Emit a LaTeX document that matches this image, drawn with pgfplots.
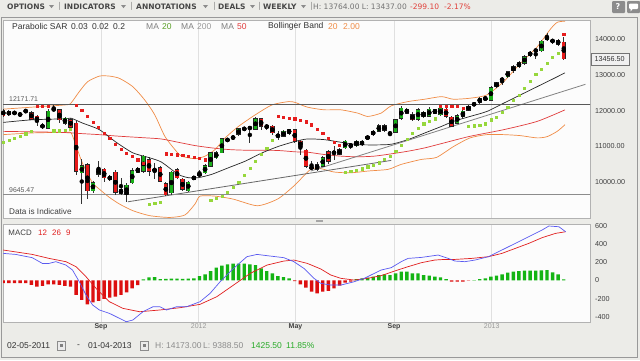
\documentclass[border=0pt]{standalone}
\usepackage{pgfplots}
\pgfplotsset{compat=1.18}
\usepackage{pgfplotstable}
\usepackage{fontspec}
\setmainfont{Liberation Sans}
\newfontfamily\dv{DejaVu Sans}
\definecolor{bgc}{RGB}{236,236,232}
\definecolor{panelc}{RGB}{252,252,252}
\definecolor{cgreen}{RGB}{25,175,25}
\definecolor{cred}{RGB}{230,25,25}
\definecolor{sarred}{RGB}{230,30,30}
\definecolor{sargreen}{RGB}{150,215,60}
\definecolor{ma50}{RGB}{225,60,60}
\definecolor{boll}{RGB}{240,140,70}
\definecolor{trend}{RGB}{130,130,130}
\definecolor{mblue}{RGB}{90,90,240}
\definecolor{mred}{RGB}{225,30,30}
\definecolor{hgreen}{RGB}{20,180,20}
\definecolor{hred}{RGB}{220,15,15}
\definecolor{txtred}{RGB}{224,64,58}
\definecolor{txtgreen}{RGB}{40,170,40}
\definecolor{magreen}{RGB}{90,160,40}

\pgfplotstableread{
w o h l c
0 12005 12060 11820 11860
1 11885 12020 11850 11975
2 11930 12000 11880 11940
3 11900 11950 11830 11890
4 11980 12060 11930 11990
5 11950 11990 11740 11760
6 11840 11870 11560 11700
7 11560 11650 11480 11570
8 11510 12050 11490 11980
9 12030 12150 11980 12040
10 12020 12030 11650 11740
11 11650 11830 11600 11790
12 11750 11800 11500 11540
13 11650 11700 10200 10310
14 10260 10640 9390 10450
15 10490 10540 9520 9750
16 9750 10040 9700 9980
17 10220 10590 10150 10360
18 10360 10400 10000 10120
19 10080 10200 10020 10150
20 10280 10330 9650 9710
21 9780 10120 9650 9690
22 9660 9960 9430 9910
23 9980 10380 9950 10310
24 10280 10430 10250 10370
25 10300 10760 10250 10720
26 10630 10700 10180 10300
27 10350 10540 10080 10330
28 10400 10440 9990 10030
29 9960 9990 9600 9640
30 9700 10320 9630 10280
31 10340 10400 10080 10120
32 10080 10100 9750 9800
33 9760 10040 9720 10000
34 10080 10180 10050 10150
35 10200 10350 10140 10220
36 10260 10500 10230 10450
37 10450 10840 10420 10820
38 10680 10860 10650 10820
39 10820 11240 10800 11210
40 11160 11230 11130 11200
41 11210 11320 11180 11280
42 11330 11520 11300 11490
43 11470 11540 11440 11510
44 11510 11540 11100 11520
45 11480 11820 11450 11780
46 11780 11800 11470 11560
47 11580 11620 11470 11530
48 11560 11600 11330 11380
49 11290 11420 11180 11300
50 11280 11460 11250 11420
51 11370 11500 11330 11470
52 11470 11500 11100 11150
53 11140 11180 10750 11000
54 10890 10920 10400 10450
55 10400 10580 10350 10410
56 10480 10550 10300 10360
57 10450 10720 10420 10680
58 10850 10900 10500 10590
59 10830 11000 10630 10820
60 10770 10950 10750 10910
61 10960 11180 10930 11140
62 11020 11100 10920 11030
63 11020 11180 10990 11140
64 11050 11180 11000 11140
65 11210 11310 11180 11280
66 11330 11450 11300 11420
67 11420 11620 11400 11580
68 11580 11620 11400 11450
69 11370 11390 11300 11360
70 11400 11780 11380 11740
71 11790 12120 11750 12070
72 12040 12080 11900 11930
73 11880 11950 11700 11745
74 11750 12080 11720 12020
75 11950 11990 11800 11840
76 11840 12090 11810 12040
77 12020 12060 11900 11930
78 11880 12100 11850 12070
79 12040 12080 11800 11840
80 11820 11850 11530 11560
81 11650 11900 11620 11860
82 11840 12010 11760 11980
83 12020 12160 11990 12130
84 12150 12240 12120 12210
85 12230 12380 12200 12350
86 12330 12400 12300 12340
87 12300 12680 12280 12650
88 12670 12810 12640 12780
89 12840 12930 12720 12900
90 12950 13120 12920 13090
91 13120 13290 13050 13230
92 13230 13380 13200 13340
93 13320 13560 13280 13520
94 13550 13680 13500 13640
95 13680 13700 13460 13690
96 13680 13980 13640 13950
97 13990 14173 13960 14080
98 13960 14020 13880 13950
99 13970 14020 13820 13860
100 13920 14060 13430 13456
}\candles

\pgfplotstableread{
w v r
0 11107 0
1 11162 0
2 11218 0
3 11287 0
4 11357 0
5 11426 0
6 12116 1
7 12116 1
8 12135 1
9 11440 0
10 11440 0
11 11454 0
12 11482 0
13 12163 1
14 12010 1
15 11849 1
16 11682 1
17 11538 1
18 11376 1
19 11218 1
20 11065 1
21 10926 1
22 10801 1
23 10717 1
24 10626 1
25 10537 1
26 9383 0
27 9411 0
28 9439 0
29 10793 1
30 10781 1
31 10765 1
32 10745 1
33 10717 1
34 10690 1
35 10662 1
36 10626 1
37 9494 0
38 9536 0
39 9605 0
40 9717 0
41 9856 0
42 9995 0
43 10189 0
44 10398 0
45 10592 0
46 10773 0
47 10959 0
48 11162 0
49 11838 1
50 11816 1
51 11793 1
52 11774 1
53 11738 1
54 11690 1
55 11607 1
56 11488 1
57 11376 1
58 11237 1
59 11115 1
60 11023 1
61 10281 0
62 10309 0
63 10337 0
64 10376 0
65 10431 0
66 10467 0
67 10542 0
68 10634 0
69 10726 0
70 10865 0
71 11023 0
72 11210 0
73 11376 0
74 11515 0
75 11635 0
76 11699 0
77 11774 0
78 12135 1
79 12135 1
80 12135 1
81 12121 1
82 12071 1
83 11560 0
84 11579 0
85 11599 0
86 11635 0
87 11746 0
88 11821 0
89 11949 0
90 12099 0
91 12283 0
92 12441 0
93 12627 0
94 12830 0
95 13025 0
96 13155 0
97 13322 0
98 13489 0
99 13617 0
100 14137 1
}\sar

\pgfplotstableread{
w v
0 -30
1 -30
2 -30
3 -30
4 -30
5 -50
6 -70
7 -60
8 -45
9 -45
10 -50
11 -62
12 -70
13 -161
14 -216
15 -264
16 -242
17 -227
18 -205
19 -190
20 -180
21 -161
22 -132
23 -88
24 -52
25 11
26 33
27 36
28 14
29 15
30 20
31 18
32 15
33 20
34 22
35 47
36 66
37 102
38 139
39 161
40 176
41 183
42 183
43 183
44 176
45 168
46 131
47 102
48 77
49 47
50 36
51 22
52 -8
53 -45
54 -81
55 -125
56 -143
57 -125
58 -117
59 -88
60 -59
61 -26
62 -15
63 14
64 22
65 29
66 40
67 58
68 66
69 58
70 77
71 95
72 95
73 77
74 77
75 58
76 51
77 40
78 33
79 14
80 -15
81 -15
82 -15
83 -4
84 3
85 14
86 22
87 40
88 51
89 66
90 84
91 95
92 102
93 106
94 106
95 106
96 110
97 113
98 88
99 66
100 11
}\hist

\begin{document}
\begin{tikzpicture}[font=\fontsize{8.5}{10}\selectfont]
\useasboundingbox (0,0) rectangle (640pt,-360pt);
\fill[bgc] (0,0) rectangle (640pt,-360pt);
\draw[black!40] (1.5pt,-17.5pt) rectangle (637.5pt,-357pt);

% ---------------- main price panel ----------------
\begin{axis}[at={(3pt,-20pt)}, anchor=north west, scale only axis,
  width=587pt, height=198pt,
  xmin=-0.05, xmax=104.68, ymin=8992, ymax=14541,
  axis background/.style={fill=panelc},
  axis line style={draw=black!30},
  xtick={17.43,34.86,52.14,69.71,87.14}, xticklabels={},
  xmajorgrids, major grid style={black!12, line width=0.6pt},
  scaled y ticks=false,
  ytick={10000,11000,12000,13000,14000},
  yticklabels={10000.00,11000.00,12000.00,13000.00,14000.00},
  yticklabel pos=right,
  yticklabel style={font=\fontsize{7.2}{8}\selectfont, text=black!75, anchor=west, inner sep=0pt, xshift=5pt},
  major tick length=0pt, tick style={draw=none},
  clip=true]
% Bollinger bands
\addplot[boll, line width=0.7pt, smooth, tension=0.4] coordinates {
(0,12043) (5.17,12099) (11.17,12163) (12.06,12210) (13.56,12533) (15.04,12811) (17.15,12969) (18.94,12969) (20.74,12905) (23.12,12672) (25.22,12302) (27.02,11885) (28.82,11282) (30.61,10912) (31.81,10726) (34.2,10654) (36,10726) (37.79,10912) (39.59,11237) (41.97,11560) (44.97,11885) (47.97,12163) (50.95,12255) (52.15,12227) (54.25,12099) (57.24,12024) (60.23,12024) (63.23,11932) (65.03,11838) (67.41,11932) (69.21,12135) (72.21,12255) (75.19,12321) (78.19,12394) (80.29,12321) (83.27,12349) (86.27,12441) (89.26,12811) (92.24,13322) (95.24,13784) (97.67,14295) (98.87,14479) (100.25,14507)};
\addplot[boll, line width=0.7pt, smooth, tension=0.4] coordinates {
(0,11329) (5.17,11376) (11.17,11393) (12.12,11376) (13.02,11004) (14.09,10542) (15.89,9986) (17.15,9800) (18.94,9569) (20.74,9383) (23.12,9197) (26.12,9058) (29.71,9008) (32.41,9077) (34.2,9383) (35.1,9605) (37.79,9605) (41.02,9522) (45.33,9336) (48.92,9522) (51.8,9883) (54.85,10356) (56.64,10376) (59.0,10281) (62.03,10259) (65.08,10309) (68.67,10356) (71.0,10495) (74.6,10634) (77.29,10690) (80.34,10996) (83.27,11237) (86.27,11329) (89.26,11329) (92.24,11301) (95.24,11237) (97.04,11273) (98.83,11421) (100.22,11607)};
% MA 50
\addplot[ma50, line width=0.7pt, smooth, tension=0.4] coordinates {
(0,11420) (10,11393) (14.15,11356) (17.15,11328) (20.14,11290) (25.22,11240) (28.22,11207) (31.2,11115) (34.2,11022) (37.2,10957) (40.18,10911) (43.18,10892) (46.18,10892) (49.16,10883) (52.15,10846) (54.25,10837) (57.24,10772) (60.23,10726) (63.23,10707) (66.21,10726) (69.21,10790) (72.21,10864) (75.19,10957) (78.19,11078) (83.27,11282) (89.26,11467) (95.24,11699) (100.22,12023)};
% MA 20
\addplot[black!85, line width=0.7pt, smooth, tension=0.4] coordinates {
(0,11671) (5.17,11745) (11.17,11773) (12.06,11792) (14.15,11652) (17.15,11467) (20.14,11115) (23.12,10818) (26.12,10679) (28.22,10559) (31.2,10216) (33,10123) (34.8,10123) (37.2,10216) (40.18,10401) (43.18,10586) (46.18,10818) (49.16,11003) (52.15,11142) (54.25,11207) (57.24,11189) (60.23,11115) (63.23,11050) (66.21,11040) (69.21,11059) (72.21,11189) (75.19,11374) (78.19,11560) (80.29,11699) (83.27,11838) (86.27,11977) (89.26,12209) (92.24,12440) (95.24,12672) (98.24,12904) (100.22,13061)};
% trend lines
\addplot[trend, line width=0.8pt] coordinates {(54.85,10309) (103.86,12739)};
\addplot[trend!80!black, line width=0.8pt] coordinates {(22.23,9447) (69.21,10606)};
% horizontal levels
\addplot[black!65, line width=0.8pt] coordinates {(-1,12171.71) (106,12171.71)};
\addplot[black!45, line width=1pt] coordinates {(-1,9645.47) (106,9645.47)};
% candles: wicks
\addplot[only marks, mark=none, error bars/.cd, y dir=both, y explicit, error mark=none,
  error bar style={line width=0.8pt, draw=black!80}]
  table[x=w, y expr={(\thisrow{h}+\thisrow{l})/2}, y error expr={(\thisrow{h}-\thisrow{l})/2}] {\candles};
% candles: body outline
\addplot[only marks, mark=none, error bars/.cd, y dir=both, y explicit, error mark=none,
  error bar style={line width=4.4pt, draw=black!85}]
  table[x=w, y expr={(\thisrow{o}+\thisrow{c})/2}, y error expr={abs(\thisrow{c}-\thisrow{o})/2+15}] {\candles};
% candles: green fill
\addplot[only marks, mark=none, unbounded coords=discard, error bars/.cd, y dir=both, y explicit, error mark=none,
  error bar style={line width=3.2pt, draw=cgreen}]
  table[x=w, y expr={\thisrow{c}>\thisrow{o} ? (\thisrow{o}+\thisrow{c})/2 : nan}, y error expr={max(abs(\thisrow{c}-\thisrow{o})/2-3,0)}] {\candles};
% candles: red fill
\addplot[only marks, mark=none, unbounded coords=discard, error bars/.cd, y dir=both, y explicit, error mark=none,
  error bar style={line width=3.2pt, draw=cred}]
  table[x=w, y expr={\thisrow{c}<\thisrow{o} ? (\thisrow{o}+\thisrow{c})/2 : nan}, y error expr={max(abs(\thisrow{c}-\thisrow{o})/2-3,0)}] {\candles};
% parabolic SAR
\addplot[only marks, mark=square*, mark size=1.1pt, sargreen, unbounded coords=discard]
  table[x=w, y expr={\thisrow{r}<1 ? \thisrow{v} : nan}] {\sar};
\addplot[only marks, mark=square*, mark size=1.1pt, sarred, unbounded coords=discard]
  table[x=w, y expr={\thisrow{r}>0 ? \thisrow{v} : nan}] {\sar};
\end{axis}

% ---------------- MACD panel ----------------
\begin{axis}[at={(3pt,-224pt)}, anchor=north west, scale only axis,
  width=587pt, height=98pt,
  xmin=-0.05, xmax=104.68, ymin=-458, ymax=619,
  axis background/.style={fill=panelc},
  axis line style={draw=black!30},
  xtick={17.43,34.86,52.14,69.71,87.14},
  xticklabels={\textbf{Sep},\textcolor{black!40}{2012},\textbf{May},\textbf{Sep},\textcolor{black!40}{2013}},
  xticklabel style={font=\fontsize{7}{8}\selectfont, text=black!75, inner sep=0pt, yshift=-1.8pt},
  xmajorgrids, major grid style={black!12, line width=0.6pt},
  scaled y ticks=false,
  ytick={-400,-200,0,200,400,600},
  yticklabels={-400,-200,0,200,400,600},
  yticklabel pos=right,
  yticklabel style={font=\fontsize{7.2}{8}\selectfont, text=black!75, anchor=west, inner sep=0pt, xshift=5pt},
  major tick length=0pt, tick style={draw=none},
  clip=true]
\addplot[ybar, bar width=3.4pt, bar shift=0pt, fill=hgreen, draw=none, unbounded coords=discard]
  table[x=w, y expr={\thisrow{v}>0 ? \thisrow{v} : nan}] {\hist};
\addplot[ybar, bar width=3.4pt, bar shift=0pt, fill=hred, draw=none, unbounded coords=discard]
  table[x=w, y expr={\thisrow{v}<0 ? \thisrow{v} : nan}] {\hist};
\addplot[mred, line width=0.7pt] coordinates {
(0,333) (5.17,285) (8.17,241) (11.17,205) (12.97,150) (14.76,40) (16.55,-88) (18.94,-235) (21.34,-308) (24.32,-345) (27.92,-326) (31.51,-301) (35.1,-264) (38.09,-180) (41.08,-52) (44.07,77) (47.07,168) (50.06,212) (51.85,223) (54.25,186) (56.64,125) (58.44,58) (60.23,22) (62.62,3) (65.01,22) (67.41,51) (69.8,102) (72.21,150) (74.6,194) (76.99,223) (78.79,230) (80.58,230) (83.57,241) (86.57,260) (88.96,296) (91.35,351) (93.75,406) (96.14,469) (98.53,516) (100.33,534)};
\addplot[mblue, line width=0.7pt] coordinates {
(0,296) (2.19,285) (5.17,249) (6.97,186) (8.17,186) (9.37,205) (11.17,168) (12.35,113) (13.56,-15) (14.76,-161) (15.94,-271) (17.15,-326) (18.94,-363) (20.74,-418) (21.94,-455) (23.12,-436) (24.92,-345) (26.72,-290) (27.92,-290) (29.12,-326) (30.92,-290) (32.71,-290) (35.1,-235) (36.9,-143) (38.69,-15) (41.08,131) (43.47,260) (45.28,285) (47.07,271) (50.06,249) (51.85,205) (53.65,131) (55.44,22) (56.64,-33) (58.44,-52) (60.23,-52) (62.62,-15) (64.42,22) (66.21,77) (67.41,113) (69.21,139) (71.0,205) (72.21,241) (74.6,252) (77.59,278) (79.39,241) (80.58,212) (82.37,205) (84.17,223) (86.57,260) (88.96,333) (91.35,406) (93.75,480) (96.14,553) (97.34,597) (99.13,589) (100.33,534)};
\end{axis}

% ---------------- toolbar ----------------
\begin{scope}[every node/.style={anchor=west, inner sep=0pt}]
\foreach \x/\t in {7/OPTIONS,64/INDICATORS,136/ANNOTATIONS,218/DEALS,263/WEEKLY}
  \node[font=\dv\bfseries\fontsize{7.5}{9}\selectfont, text=black!72] at (\x pt,-6.5pt) {\t};
\foreach \x in {49,121,203,250,301}
  \fill[black!45] (\x pt,-5pt) -- ++(5pt,0) -- ++(-2.5pt,-3.2pt) -- cycle;
\foreach \x in {58,130,213,258,310}
  \node[font=\dv\fontsize{8}{9}\selectfont, text=black!45] at (\x pt,-6.5pt) {|};
\node[font=\dv\fontsize{7.5}{9}\selectfont, text=black!55] at (313pt,-6.5pt) {H: 13764.00 L: 13437.00};
\node[font=\dv\fontsize{7.5}{9}\selectfont, text=txtred] at (410pt,-6.5pt) {-299.10};
\node[font=\dv\fontsize{7.5}{9}\selectfont, text=txtred] at (444pt,-6.5pt) {-2.17\%};
% icons
\fill[black!45, rounded corners=1pt] (612pt,-1pt) rectangle (625pt,-13pt);
\node[font=\dv\bfseries\fontsize{8}{9}\selectfont, text=white] at (615.3pt,-7pt) {?};
\fill[black!45, rounded corners=1pt] (627pt,-1pt) rectangle (640pt,-13pt);
\fill[white, rounded corners=1pt] (629pt,-3.5pt) rectangle (638pt,-9pt);
\fill[white] (630.5pt,-8.5pt) -- (630.5pt,-11.5pt) -- (633pt,-8.5pt) -- cycle;

% ---------------- panel header ----------------
\node[text=black!80] at (12pt,-26.5pt) {Parabolic SAR};
\node[text=black!80] at (71pt,-26.5pt) {0.03};
\node[text=black!80] at (92pt,-26.5pt) {0.02};
\node[text=black!80] at (113pt,-26.5pt) {0.2};
\node[text=black!50] at (146pt,-26.5pt) {MA};
\node[text=magreen] at (162pt,-26.5pt) {20};
\node[text=black!50] at (181pt,-26.5pt) {MA};
\node[text=black!40] at (197pt,-26.5pt) {200};
\node[text=black!50] at (221pt,-26.5pt) {MA};
\node[text=ma50] at (237pt,-26.5pt) {50};
\node[text=black!80] at (268pt,-26.5pt) {Bollinger Band};
\node[text=boll] at (328pt,-26.5pt) {20};
\node[text=boll] at (343pt,-26.5pt) {2.00};

% level labels
\node[font=\fontsize{6.9}{8}\selectfont, text=black!65] at (9pt,-99.3pt) {12171.71};
\node[font=\fontsize{6.9}{8}\selectfont, text=black!65] at (9pt,-190pt) {9645.47};
\node[font=\fontsize{8.2}{9}\selectfont, text=black!75] at (9pt,-211.7pt) {Data is Indicative};

% current price box
\node[draw=black!55, fill=black!6, inner sep=0pt, minimum width=38pt, minimum height=12.5pt,
  font=\fontsize{7.2}{8}\selectfont, text=black!80] at (590.5pt,-59.3pt) {13456.50};

% separator handle
\fill[black!35] (316pt,-219.8pt) rectangle (323pt,-222.2pt);

% MACD header
\node[font=\fontsize{7.9}{9}\selectfont, text=black!75] at (8.3pt,-232.3pt) {MACD};
\node[font=\fontsize{7.9}{9}\selectfont, text=mred] at (38pt,-232.3pt) {12};
\node[font=\fontsize{7.9}{9}\selectfont, text=mred] at (52pt,-232.3pt) {26};
\node[font=\fontsize{7.9}{9}\selectfont, text=mred] at (66pt,-232.3pt) {9};

% bottom row
\node[text=black!80] at (7pt,-346pt) {02-05-2011};
\node[text=black!80] at (77pt,-346pt) {-};
\node[text=black!80] at (88pt,-346pt) {01-04-2013};
\node[text=black!45] at (155pt,-346pt) {H: 14173.00};
\node[text=black!45] at (203pt,-346pt) {L: 9388.50};
\node[text=txtgreen] at (251pt,-346pt) {1425.50};
\node[text=txtgreen] at (286pt,-346pt) {11.85\%};
\end{scope}
% calendar icons
\foreach \x in {57,140} {
  \draw[black!45, fill=black!8] (\x pt,-341.5pt) rectangle ++(8.5pt,-8.5pt);
  \fill[black!50] (\x pt+2.8pt,-344.3pt) rectangle ++(3pt,-3pt);
}
\end{tikzpicture}
\end{document}
